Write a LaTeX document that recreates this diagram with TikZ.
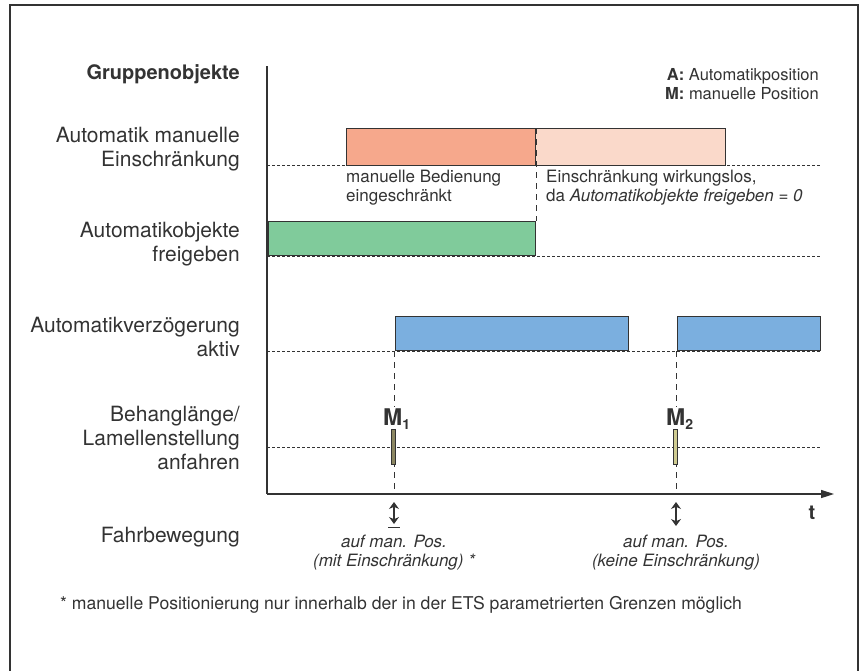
\documentclass[tikz,border=0pt]{standalone}
\usepackage{fontspec}
\setmainfont{TeX Gyre Heros}
\usetikzlibrary{arrows.meta}
\definecolor{ink}{HTML}{333333}
\definecolor{salmonA}{HTML}{F6A88C}
\definecolor{salmonB}{HTML}{FAD9CA}
\definecolor{greenbar}{HTML}{80CB9B}
\definecolor{bluebar}{HTML}{7BAFDF}
\definecolor{oliveA}{HTML}{8C8762}
\definecolor{oliveB}{HTML}{CFCB91}
\begin{document}
\begin{tikzpicture}[x=1pt,y=-1pt,
  every node/.style={inner sep=0pt,text=ink},
  lbl/.style={anchor=north east,align=right,font=\fontsize{21}{24}\selectfont},
  txt/.style={anchor=north west,align=left,font=\fontsize{17}{19}\selectfont},
  itx/.style={anchor=north,align=center,font=\fontsize{17}{19}\selectfont\itshape},
  barbox/.style={draw=ink,line width=1.1pt,anchor=north west,minimum height=#1},
  dotline/.style={draw=ink,line width=0.8pt,dash pattern=on 2.5pt off 2.5pt},
  dashline/.style={draw=ink,line width=0.8pt,dash pattern=on 6pt off 5pt},
  axis/.style={draw=ink,line width=1.5pt},
  mlabel/.style={anchor=base west,fill=white,inner sep=1pt,font=\bfseries\fontsize{23}{23}\selectfont},
  mbar/.style={draw=ink,line width=0.9pt,minimum width=3.5pt,minimum height=35pt,anchor=north},
  darr/.style={draw=ink,line width=1.5pt,{Stealth[length=7pt,width=10pt]}-{Stealth[length=7pt,width=10pt]}}
]
\useasboundingbox (0,0) rectangle (862,670);
% frame
\draw[ink,line width=1.5pt] (10,672) -- (10,5) -- (858,5) -- (858,672);

% headings and legend
\node[anchor=base east,font=\bfseries\fontsize{20}{22}\selectfont] (grp) at (240,79) {Gruppenobjekte};
\node[anchor=base east,font=\fontsize{16.5}{19}\selectfont] (legA) at (819,80) {\textbf{A:} Automatikposition};
\node[anchor=base east,font=\fontsize{16.5}{19}\selectfont] (legM) at (819,99) {\textbf{M:} manuelle Position};

% left labels
\node[lbl] (l1) at (240,127) {Automatik manuelle\\Einschränkung};
\node[lbl] (l2) at (240,222) {Automatikobjekte\\freigeben};
\node[lbl] (l3) at (240,317) {Automatikverzögerung\\aktiv};
\node[lbl] (l4) at (240,406) {Behanglänge/\\Lamellenstellung\\anfahren};
\node[lbl] (l5) at (240,527) {Fahrbewegung};

% dotted base lines
\coordinate (d1s) at (267,165); \coordinate (d1e) at (820,165);
\coordinate (d2s) at (267,256); \coordinate (d2e) at (820,256);
\coordinate (d3s) at (267,351); \coordinate (d3e) at (820,351);
\coordinate (d4s) at (267,447); \coordinate (d4e) at (820,447);
\draw[dotline] (d1s) -- (d1e);
\draw[dotline] (d2s) -- (d2e);
\draw[dotline] (d3s) -- (d3e);
\draw[dotline] (d4s) -- (d4e);

% bars
\node[barbox=37pt,minimum width=189pt,fill=salmonA] (r1a) at (346,128) {};
\node[barbox=37pt,minimum width=190pt,fill=salmonB] (r1b) at (535,128) {};
\node[barbox=34pt,minimum width=267pt,fill=greenbar] (g1) at (268,221) {};
\node[barbox=34pt,minimum width=233pt,fill=bluebar] (b1) at (395,316) {};
\node[barbox=34pt,minimum width=143pt,fill=bluebar] (b2) at (677,316) {};

% texts under row 1
\node[txt] (t1) at (346,170) {manuelle Bedienung\\eingeschränkt};
\node[txt] (t2) at (546,170) {Einschränkung wirkungslos,\\da \textit{Automatikobjekte freigeben = 0}};

% dashed separator
\draw[dashline] (r1a.north east) -- (g1.north east);

% axes
\coordinate (ax0) at (267,494);
\coordinate (axtop) at (267,66);
\coordinate (axend) at (834,494);
\draw[axis] (axtop) -- (ax0);
\draw[axis,-{Triangle[length=13pt,width=8pt]}] (ax0) -- (axend);
\node[anchor=base,font=\bfseries\fontsize{20}{22}\selectfont] (tlab) at (812,519) {t};

% dashed drops to axis
\coordinate (x1) at (394,494);
\coordinate (x2) at (676,494);
\draw[dashline] (b1.south west) ++(-1,0) coordinate (b1d) -- (x1);
\draw[dashline] (b2.south west) ++(-1,0) coordinate (b2d) -- (x2);

% M labels and pulses
\node[mlabel] (m1) at (382,425) {M\raisebox{-4pt}{\fontsize{14}{14}\selectfont 1}};
\node[mlabel] (m2) at (665,425) {M\raisebox{-4pt}{\fontsize{14}{14}\selectfont 2}};
\node[mbar,fill=oliveA] (p1) at (393.5,429) {};
\node[mbar,fill=oliveB] (p2) at (675.5,429) {};

% movement arrows
\coordinate (a1t) at (394,502); \coordinate (a1b) at (394,524);
\coordinate (a2t) at (676,502); \coordinate (a2b) at (676,526);
\draw[darr] (a1t) -- (a1b);
\draw[darr] (a2t) -- (a2b);
\coordinate (u1l) at (388,527.5); \coordinate (u1r) at (400,527.5);
\draw[ink,line width=1.2pt] (u1l) -- (u1r);

\node[itx] (f1) at (394,535) {auf man. Pos.\\(mit Einschränkung) *};
\node[itx] (f2) at (676,535) {auf man. Pos.\\(keine Einschränkung)};

% footnote
\node[anchor=base west,font=\fontsize{17.6}{19}\selectfont] (fn) at (60,609) {* manuelle Positionierung nur innerhalb der in der ETS parametrierten Grenzen möglich};
\end{tikzpicture}
\end{document}
